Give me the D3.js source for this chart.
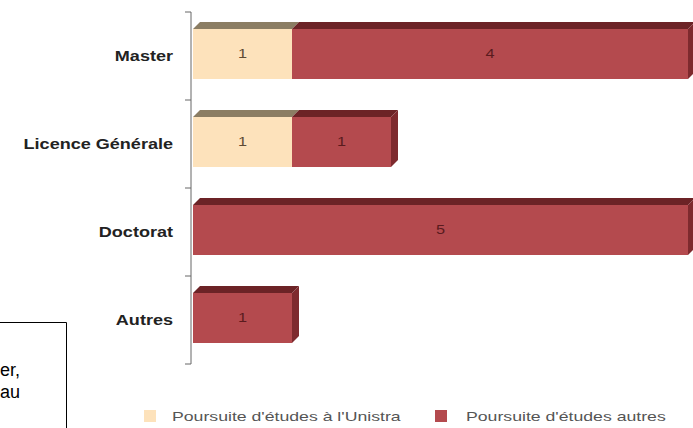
<!DOCTYPE html>
<html>
<head>
<meta charset="utf-8">
<script src="https://cdn.jsdelivr.net/npm/d3@7"></script>
<style>
  html, body { margin: 0; padding: 0; background: #fff; }
  svg { display: block; }
</style>
</head>
<body>
<svg id="chart" width="693" height="428"></svg>
<script>
const categories = ["Master", "Licence Générale", "Doctorat", "Autres"];
const seriesKeys = ["unistra", "autres"];
const seriesNames = ["Poursuite d'études à l'Unistra", "Poursuite d'études autres"];
const unistraValues = [1, 1, 0, 0];
const autresValues = [4, 1, 5, 1];
const boxLines = ["er,", "au"];

const frontColors = { unistra: "#fde2bb", autres: "#b44a4e" };
const topColors = { unistra: "#8b7d63", autres: "#6c2326" };
const sideColors = { unistra: "#a08a66", autres: "#7e2a2e" };
const labelColors = { unistra: "#5e4a33", autres: "#5a1b1e" };

const svg = d3.select("#chart");
const FONT = "'Liberation Sans', Arial, Helvetica, sans-serif";
const STRETCH = 1.36;
const CAT_STRETCH = 1.29;
const depth = 7;

const rows = categories.map((c, i) => ({ cat: c, unistra: unistraValues[i], autres: autresValues[i] }));
const stacked = d3.stack().keys(seriesKeys)(rows);

const x = d3.scaleLinear().domain([0, 5]).range([193, 688]);
const y = d3.scaleBand().domain(categories).range([12, 364]).padding(0);
const barInset = 17, barH = 50;

// axis line with ticks at band boundaries
const g = svg.append("g");
const axisX = 191;
g.append("line").attr("x1", axisX).attr("x2", axisX)
  .attr("y1", y.range()[0]).attr("y2", y.range()[1])
  .attr("stroke", "#666").attr("stroke-width", 1);
const boundaries = categories.map(c => y(c)).concat([y.range()[1]]);
g.selectAll("line.tick").data(boundaries).join("line")
  .attr("class", "tick")
  .attr("x1", axisX - 6).attr("x2", axisX)
  .attr("y1", d => d).attr("y2", d => d)
  .attr("stroke", "#666").attr("stroke-width", 1);

// bars
stacked.forEach((layer, li) => {
  const key = layer.key;
  layer.forEach((seg, i) => {
    const v = seg[1] - seg[0];
    if (v <= 0) return;
    const cat = categories[i];
    const x0 = x(seg[0]), x1 = x(seg[1]);
    const yt = y(cat) + barInset, yb = yt + barH;
    const isLast = stacked.slice(li + 1).every(l => l[i][1] - l[i][0] <= 0);
    g.append("path")
      .attr("d", `M${x0},${yt}L${x0 + depth},${yt - depth}L${x1 + depth},${yt - depth}L${x1},${yt}Z`)
      .attr("fill", topColors[key]);
    g.append("rect").attr("x", x0).attr("y", yt).attr("width", x1 - x0).attr("height", barH)
      .attr("fill", frontColors[key]);
    if (isLast) {
      g.append("path")
        .attr("d", `M${x1},${yt}L${x1 + depth},${yt - depth}L${x1 + depth},${yb - depth}L${x1},${yb}Z`)
        .attr("fill", sideColors[key]);
    }
    g.append("text")
      .attr("transform", `translate(${(x0 + x1) / 2},${yt + barH / 2 + 4}) scale(${STRETCH},1)`)
      .attr("text-anchor", "middle")
      .attr("font-family", FONT).attr("font-size", 12)
      .attr("fill", labelColors[key])
      .text(v);
  });
});

// category labels
g.selectAll("text.cat").data(categories).join("text")
  .attr("class", "cat")
  .attr("transform", d => `translate(173,${y(d) + barInset + barH / 2 + 7}) scale(${CAT_STRETCH},1)`)
  .attr("text-anchor", "end")
  .attr("font-family", FONT).attr("font-weight", "bold").attr("font-size", 14)
  .attr("fill", "#222")
  .text(d => d);

// legend
const legendItems = [
  { key: "unistra", name: seriesNames[0], sx: 144, tx: 172 },
  { key: "autres", name: seriesNames[1], sx: 435, tx: 466 }
];
const lg = svg.append("g");
legendItems.forEach(it => {
  lg.append("rect").attr("x", it.sx).attr("y", 410).attr("width", 12).attr("height", 12)
    .attr("fill", frontColors[it.key]);
  lg.append("text")
    .attr("transform", `translate(${it.tx},421) scale(${STRETCH},1)`)
    .attr("font-family", FONT).attr("font-size", 13)
    .attr("fill", "#555")
    .text(it.name);
});

// partial text box at the lower left
const bx = svg.append("g");
bx.append("path").attr("d", "M-1,322.5H66.5V429")
  .attr("fill", "none").attr("stroke", "#000").attr("stroke-width", 1);
bx.selectAll("text").data(boxLines).join("text")
  .attr("x", 0).attr("y", (d, i) => 376 + i * 22)
  .attr("font-family", FONT).attr("font-size", 18)
  .attr("fill", "#000")
  .text(d => d);
</script>
</body>
</html>
